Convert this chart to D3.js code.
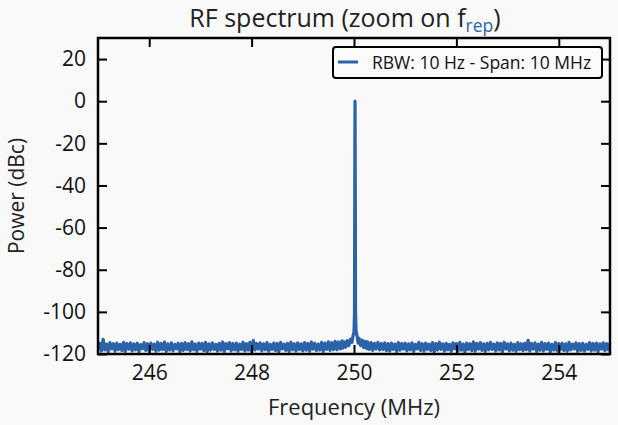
<!DOCTYPE html>
<html><head><meta charset="utf-8">
<script src="https://cdn.jsdelivr.net/npm/d3@7"></script>
<style>
html,body{margin:0;padding:0;background:#f9f9f9;}
text{font-family:"Open Sans",sans-serif;}
</style></head>
<body><svg id="c" width="618" height="425"></svg>
<script>
// ---- data ----
const xDomain = [245, 255];
const yDomain = [-120, 30];
const xTicks = [246, 248, 250, 252, 254];
const yTicks = [-120, -100, -80, -60, -40, -20, 0, 20];
const noiseStart = 245, noiseStep = 10 / 300;
// noise floor values (dBc) sampled every noiseStep MHz; null = replaced by peak data
const noise = [
-117.8,-114.9,-118.6,-113.0,-118.1,-115.3,-118.9,-114.6,-117.6,-115.1,
-118.7,-114.8,-117.9,-115.4,-118.4,-114.5,-118.8,-115.0,-117.7,-114.7,
-118.5,-115.2,-118.0,-114.9,-118.9,-115.5,-117.5,-114.6,-118.3,-115.1,
-118.6,-114.8,-117.8,-115.3,-118.7,-114.4,-118.2,-115.0,-117.9,-114.3,
-118.8,-115.2,-118.1,-114.7,-118.5,-115.4,-117.6,-114.9,-118.9,-115.0,
-118.3,-114.6,-117.9,-115.1,-118.6,-114.2,-118.0,-115.3,-118.7,-114.8,
-117.7,-115.0,-118.4,-114.5,-118.9,-115.2,-118.1,-114.7,-117.8,-115.4,
-118.6,-114.9,-118.2,-114.3,-118.8,-115.1,-117.6,-114.6,-118.5,-115.0,
-118.0,-114.8,-118.7,-115.3,-117.9,-114.4,-118.6,-115.1,-118.2,-114.5,
-118.9,-113.6,-118.1,-115.0,-117.7,-114.7,-118.5,-115.2,-118.0,-114.6,
-118.7,-115.4,-117.8,-114.8,-118.4,-115.0,-118.9,-114.5,-117.6,-115.3,
-118.3,-114.9,-118.8,-114.4,-118.0,-115.1,-118.6,-114.7,-117.9,-115.2,
-118.5,-114.6,-118.2,-115.0,-118.7,-114.3,-117.7,-114.9,-118.4,-115.3,
-118.1,-114.5,-118.8,-114.8,-117.8,-114.2,-118.3,-114.6,-117.9,-114.0,
-118.0,-114.3,-117.6,-113.8,
null,null,null,null,null,null,null,null,null,null,null,null,null,null,
-114.2,-117.8,-114.6,-118.3,-114.9,-117.6,-114.5,-118.1,-115.0,-117.9,-114.7,-118.4,
-115.1,-118.6,-114.8,-117.8,-115.3,-118.9,-114.6,-118.2,-115.0,-117.7,
-114.9,-118.5,-115.2,-118.0,-114.7,-118.8,-115.4,-117.6,-114.5,-118.3,
-115.1,-118.7,-114.8,-117.9,-115.3,-118.4,-114.6,-118.9,-115.0,-118.1,
-114.4,-117.8,-115.2,-118.6,-114.9,-118.0,-115.4,-118.7,-114.7,-117.6,
-115.0,-118.5,-114.5,-118.2,-115.3,-118.9,-114.8,-117.9,-115.1,-118.4,
-114.3,-118.7,-115.0,-117.7,-114.6,-118.3,-115.2,-118.8,-114.9,-118.0,
-114.5,-117.8,-115.3,-118.6,-114.7,-118.1,-115.0,-118.9,-114.4,-117.6,
-115.2,-118.5,-114.8,-118.2,-115.4,-118.7,-114.6,-117.9,-115.1,-118.4,
-114.9,-118.0,-113.5,-118.6,-115.0,-117.7,-114.7,-118.8,-115.3,-118.2,
-114.5,-118.5,-115.1,-117.8,-114.8,-118.9,-115.4,-118.1,-114.6,-118.6,
-115.0,-117.9,-114.9,-118.4,-115.2,-118.7,-114.5,-118.0,-115.3,-117.6,
-114.7,-118.8,-115.1,-118.3,-114.9,-118.6,-115.4,-117.8,-114.6,-118.5,
-115.0,-118.2,-114.8,-118.9,-115.2,-117.7,-114.7,-118.4,-115.1,-118.0,-114.9
];
// carrier peak near 250 MHz: [freq MHz, dBc]
const peakFreq = [249.78,249.81,249.84,249.87,249.90,249.93,249.96,249.98,250.00,250.01,250.015,250.02,250.025,250.03,250.04,250.06,250.08,250.10,250.13,250.16,250.19,250.22,250.25];
const peakPow  = [-117.2,-114.2,-116.8,-113.6,-116.0,-113.0,-114.5,-111.5,-109.5,-100,-40,0,-40,-100,-109,-111.5,-114.8,-112.6,-116.0,-113.4,-117.0,-114.0,-117.5];
const legendLabel = "RBW: 10 Hz - Span: 10 MHz";

// ---- build series ----
const pts = [];
noise.forEach((v, i) => { if (v !== null) pts.push([noiseStart + i * noiseStep, v]); });
peakFreq.forEach((f, i) => pts.push([f, peakPow[i]]));
pts.sort((a, b) => a[0] - b[0]);

// ---- layout ----
const L = 98, T = 38, R = 610, B = 354;
const svg = d3.select("#c");
const x = d3.scaleLinear().domain(xDomain).range([L, R]);
const y = d3.scaleLinear().domain(yDomain).range([B, T]);
const col = "#2b63a9";

svg.append("defs").append("clipPath").attr("id", "clip")
  .append("rect").attr("x", L).attr("y", T).attr("width", R - L).attr("height", B - T);

svg.append("path").datum(pts)
  .attr("clip-path", "url(#clip)")
  .attr("fill", "none").attr("stroke", col).attr("stroke-width", 3.2)
  .attr("stroke-linejoin", "round")
  .attr("d", d3.line().x(d => x(d[0])).y(d => y(d[1])));

// axes (ticks inward on all sides)
const tk = 9;
const fs = 21;
const fmt = d => String(d);
svg.append("g").attr("transform", `translate(0,${B})`)
  .call(d3.axisBottom(x).tickValues(xTicks).tickSize(-tk).tickPadding(tk + 2).tickFormat(fmt))
  .call(g => { g.select(".domain").remove(); g.selectAll("line").attr("stroke", "#000").attr("stroke-width", 2);
    g.selectAll("text").attr("font-size", fs).attr("fill", "#111").attr("font-family", "Open Sans"); });
svg.append("g").attr("transform", `translate(0,${T})`)
  .call(d3.axisTop(x).tickValues(xTicks).tickSize(-tk).tickFormat(""))
  .call(g => { g.select(".domain").remove(); g.selectAll("line").attr("stroke", "#000").attr("stroke-width", 2); });
svg.append("g").attr("transform", `translate(${L},0)`)
  .call(d3.axisLeft(y).tickValues(yTicks).tickSize(-tk).tickPadding(tk + 3).tickFormat(fmt))
  .call(g => { g.select(".domain").remove(); g.selectAll("line").attr("stroke", "#000").attr("stroke-width", 2);
    g.selectAll("text").attr("font-size", fs).attr("fill", "#111").attr("font-family", "Open Sans"); });
svg.append("g").attr("transform", `translate(${R},0)`)
  .call(d3.axisRight(y).tickValues(yTicks).tickSize(-tk).tickFormat(""))
  .call(g => { g.select(".domain").remove(); g.selectAll("line").attr("stroke", "#000").attr("stroke-width", 2); });

svg.append("rect").attr("x", L).attr("y", T).attr("width", R - L).attr("height", B - T)
  .attr("fill", "none").attr("stroke", "#000").attr("stroke-width", 2.5);

// labels
svg.append("text").attr("x", 354).attr("y", 415).attr("text-anchor", "middle")
  .attr("font-size", 22).attr("fill", "#222").text("Frequency (MHz)");
svg.append("text").attr("transform", "translate(24,196) rotate(-90)").attr("text-anchor", "middle")
  .attr("font-size", 21).attr("fill", "#222").text("Power (dBc)");
const title = svg.append("text").attr("x", 345).attr("y", 27).attr("text-anchor", "middle")
  .attr("font-size", 25).attr("fill", "#222");
title.append("tspan").text("RF spectrum (zoom on f");
title.append("tspan").attr("font-size", 17.5).attr("dy", 5).attr("fill", "#2b63a9").text("rep");
title.append("tspan").attr("dy", -5).text(")");

// legend
const lg = svg.append("g");
lg.append("rect").attr("x", 333).attr("y", 47).attr("width", 269).attr("height", 31).attr("rx", 3)
  .attr("fill", "#fbfbfb").attr("stroke", "#000").attr("stroke-width", 2);
lg.append("line").attr("x1", 338).attr("x2", 358).attr("y1", 62).attr("y2", 62)
  .attr("stroke", col).attr("stroke-width", 3);
lg.append("text").attr("x", 372).attr("y", 68.5).attr("font-size", 17.5).attr("fill", "#111").text(legendLabel);
</script></body></html>
